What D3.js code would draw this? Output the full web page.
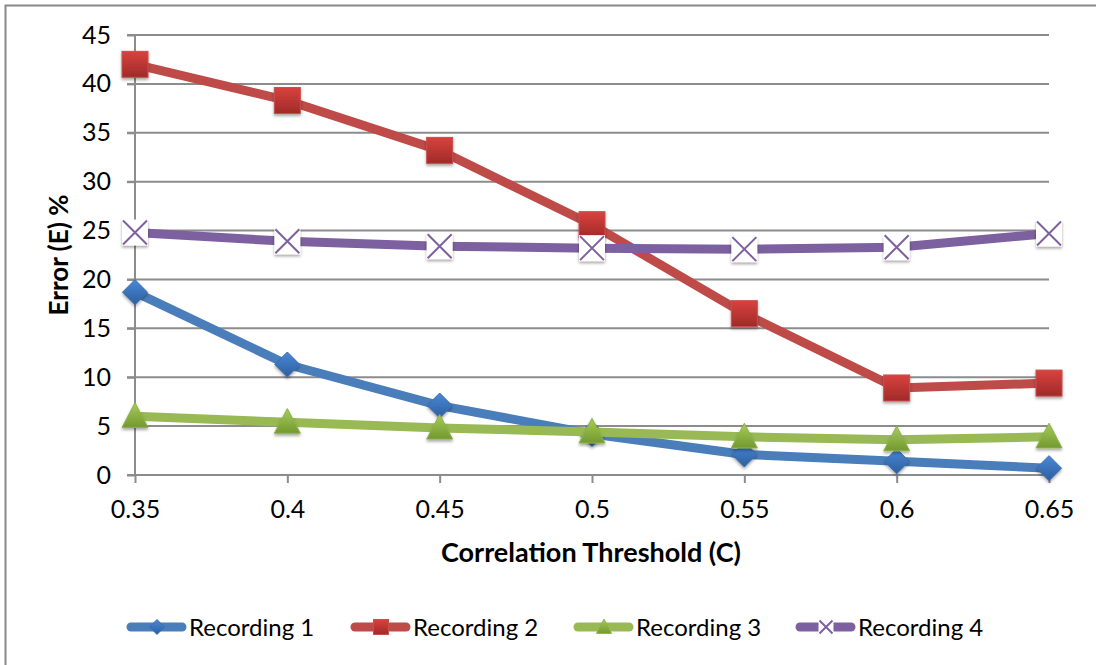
<!DOCTYPE html>
<html>
<head>
<meta charset="utf-8">
<script src="https://cdn.jsdelivr.net/npm/d3@7"></script>
<style>
  html, body { margin: 0; padding: 0; background: #fff; }
  svg { display: block; font-family: Lato, "Open Sans", sans-serif; }
</style>
</head>
<body>
<svg id="chart" width="1096" height="665"></svg>
<script>
// Correlation threshold categories and error (%) per recording
const thresholds = ["0.35", "0.4", "0.45", "0.5", "0.55", "0.6", "0.65"];
const recording1 = [18.7, 11.3, 7.1, 4.2, 2.1, 1.4, 0.7];
const recording2 = [42.0, 38.3, 33.2, 25.6, 16.5, 8.9, 9.4];
const recording3 = [6.0, 5.4, 4.8, 4.4, 3.9, 3.6, 3.9];
const recording4 = [24.8, 23.9, 23.4, 23.2, 23.1, 23.3, 24.7];
const seriesNames = ["Recording 1", "Recording 2", "Recording 3", "Recording 4"];
const yTicks = [0, 5, 10, 15, 20, 25, 30, 35, 40, 45];

const series = [
  { name: seriesNames[0], values: recording1, color: "#4a7ebb", marker: "diamond", grad: ["#4a88d6", "#2d5f9f"] },
  { name: seriesNames[1], values: recording2, color: "#be4b48", marker: "square", grad: ["#d8423f", "#a02a28"] },
  { name: seriesNames[2], values: recording3, color: "#98b954", marker: "triangle", grad: ["#a6cc5a", "#73992f"] },
  { name: seriesNames[3], values: recording4, color: "#7d60a0", marker: "x", grad: ["#ffffff", "#ffffff"] }
];

const svg = d3.select("#chart");
const defs = svg.append("defs");

// soft drop shadow under markers
const shadow = defs.append("filter").attr("id", "shadow")
  .attr("x", "-40%").attr("y", "-40%").attr("width", "180%").attr("height", "180%");
shadow.append("feDropShadow").attr("dx", 0).attr("dy", 2).attr("stdDeviation", 1.6)
  .attr("flood-color", "#000").attr("flood-opacity", 0.35);

series.forEach((s, i) => {
  const g = defs.append("linearGradient").attr("id", "grad" + i)
    .attr("x1", 0).attr("y1", 0).attr("x2", 0).attr("y2", 1);
  g.append("stop").attr("offset", "0%").attr("stop-color", s.grad[0]);
  g.append("stop").attr("offset", "100%").attr("stop-color", s.grad[1]);
});

// outer chart border
svg.append("rect").attr("x", 5.5).attr("y", 5.5).attr("width", 1200).attr("height", 800)
  .attr("fill", "none").attr("stroke", "#8a8a8a").attr("stroke-width", 2);

const x = d3.scalePoint().domain(thresholds).range([135, 1049]);
const y = d3.scaleLinear().domain([0, 45]).range([475, 35]);

// horizontal gridlines
svg.append("g").selectAll("line").data(yTicks.filter(d => d > 0)).join("line")
  .attr("x1", 127).attr("x2", 1049)
  .attr("y1", d => y(d)).attr("y2", d => y(d))
  .attr("stroke", "#8c8c8c").attr("stroke-width", 2);

// y axis
const yAxis = svg.append("g").attr("transform", "translate(135,0)")
  .call(d3.axisLeft(y).tickValues(yTicks).tickSize(8).tickPadding(16));
// x axis
const xAxis = svg.append("g").attr("transform", "translate(0,475)")
  .call(d3.axisBottom(x).tickSize(8).tickPadding(17));

[yAxis, xAxis].forEach(a => {
  a.select(".domain").attr("stroke", "#8c8c8c").attr("stroke-width", 2);
  a.selectAll(".tick line").attr("stroke", "#8c8c8c").attr("stroke-width", 2);
  a.selectAll("text").attr("fill", "#000").style("font-size", "25px")
    .style("font-family", "Lato, 'Open Sans', sans-serif");
});
yAxis.select(".domain").attr("d", "M0,35V475");
xAxis.select(".domain").attr("d", "M127,0H1049");

// axis titles
svg.append("text").attr("x", 591).attr("y", 562).attr("text-anchor", "middle")
  .style("font-weight", 700).style("font-size", "27px").text("Correlation Threshold (C)");
svg.append("text").attr("transform", "translate(68,255) rotate(-90)").attr("text-anchor", "middle")
  .style("font-weight", 700).style("font-size", "26px").text("Error (E) %");

function drawMarker(sel, s, i, size) {
  const h = size / 2;
  if (s.marker === "diamond") {
    sel.append("path").attr("d", `M0,${-h}L${h},0L0,${h}L${-h},0Z`)
      .attr("fill", `url(#grad${i})`).attr("stroke", "#3b6db0").attr("stroke-width", 1);
  } else if (s.marker === "square") {
    sel.append("rect").attr("x", -h).attr("y", -h).attr("width", size).attr("height", size)
      .attr("fill", `url(#grad${i})`).attr("stroke", "#c84f4c").attr("stroke-width", 1);
  } else if (s.marker === "triangle") {
    sel.append("path").attr("d", `M0,${-h * 1.05}L${h},${h * 0.85}L${-h},${h * 0.85}Z`)
      .attr("fill", `url(#grad${i})`).attr("stroke", "#8db24a").attr("stroke-width", 1);
  } else {
    sel.append("rect").attr("x", -h).attr("y", -h).attr("width", size).attr("height", size)
      .attr("fill", "#fff");
    const k = h - 1;
    sel.append("path").attr("d", `M${-k},${-k}L${k},${k}M${k},${-k}L${-k},${k}`)
      .attr("stroke", s.color).attr("stroke-width", 2).attr("fill", "none");
  }
}

const line = d3.line().x((d, j) => x(thresholds[j])).y(d => y(d));

series.forEach((s, i) => {
  const g = svg.append("g");
  g.append("path").datum(s.values).attr("d", line)
    .attr("fill", "none").attr("stroke", s.color).attr("stroke-width", 9)
    .attr("stroke-linejoin", "round");
  g.selectAll("g.pt").data(s.values).join("g").attr("class", "pt")
    .attr("transform", (d, j) => `translate(${x(thresholds[j])},${y(d)})`)
    .attr("filter", "url(#shadow)")
    .each(function () { drawMarker(d3.select(this), s, i, s.marker === "diamond" ? 25 : 26); });
});

// legend
const legendX = [127, 351, 574, 796];
series.forEach((s, i) => {
  const g = svg.append("g").attr("transform", `translate(${legendX[i]},627)`);
  g.append("line").attr("x1", 4).attr("x2", 55).attr("y1", 0).attr("y2", 0)
    .attr("stroke", s.color).attr("stroke-width", 9).attr("stroke-linecap", "round");
  const m = g.append("g").attr("transform", "translate(30,0)");
  drawMarker(m, s, i, 15);
  g.append("text").attr("x", 62).attr("y", 9).style("font-size", "24px").text(s.name);
});
</script>
</body>
</html>
